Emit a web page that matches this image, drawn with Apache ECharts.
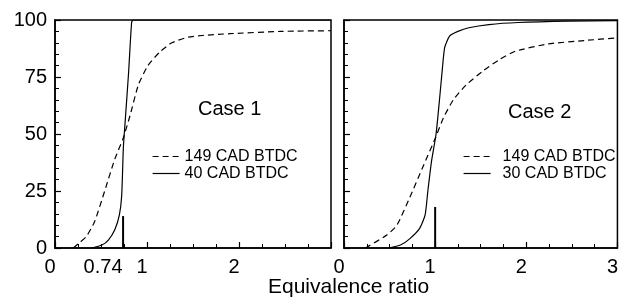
<!DOCTYPE html>
<html>
<head>
<meta charset="utf-8">
<script src="https://cdn.jsdelivr.net/npm/echarts@6.0.0/dist/echarts.min.js"></script>
<style>
    html, body {margin: 0; padding: 0; background: #fff;}
    #main {width: 621px; height: 297px;}
</style>
</head>
<body>
<div id="main"></div>
<script>
// Case 1 数据
var case1_149_x = [0.2, 0.27, 0.34, 0.43, 0.54, 0.65, 0.74, 0.815, 0.906, 1.01, 1.14, 1.27, 1.45, 1.6, 1.9, 2.45, 3.0]
var case1_149_y = [0, 2.5, 5, 11.5, 25, 39, 48, 58, 71.5, 80, 86, 90, 92.5, 93.2, 94, 95, 95.3]
var case1_40_x = [0.40, 0.51, 0.58, 0.65, 0.70, 0.725, 0.743, 0.76, 0.80, 0.833, 0.85, 3.0]
var case1_40_y = [0, 1.3, 3.5, 8, 14.5, 23, 44, 54, 77, 99, 100, 100]
var case1_mark_x = [0.74, 0.74]
var case1_mark_y = [0, 14]

// Case 2 数据
var case2_149_x = [0.235, 0.47, 0.58, 0.72, 0.87, 1.0, 1.09, 1.2, 1.34, 1.52, 1.70, 1.88, 2.24, 2.64, 3.0]
var case2_149_y = [0, 5.7, 10, 22, 36, 48, 57, 65, 71.5, 77.5, 82.5, 86.3, 89.5, 91, 92.2]
var case2_30_x = [0.49, 0.62, 0.72, 0.83, 0.89, 0.92, 0.96, 1.01, 1.05, 1.08, 1.105, 1.16, 1.25, 1.37, 1.59, 1.91, 2.46, 3.0]
var case2_30_y = [0, 1.3, 4, 8.6, 14.5, 25, 38, 50, 66, 79, 88, 93, 95, 96.6, 98, 98.9, 99.5, 99.7]
var case2_mark_x = [1.0, 1.0]
var case2_mark_y = [0, 18]

// 刻度标签
var case1_x_labels = [0, 0.74, 1, 2]
var case2_x_labels = [0, 1, 2, 3]
var y_ticks = [0, 25, 50, 75, 100]

var FONT = '"Liberation Sans", Arial, Helvetica, sans-serif'

function zip(xs, ys) {
    var out = []
    for (var i = 0; i < xs.length; i++) {
        out.push([xs[i], ys[i]])
    }
    return out
}

function make_x_axis(gridIndex, labels) {
    return {
        type: 'value',
        gridIndex: gridIndex,
        min: 0,
        max: 3,
        interval: 1,
        axisLine: {lineStyle: {color: '#000', width: 1.5}},
        axisTick: {inside: true, length: 6, lineStyle: {color: '#000', width: 1.2}},
        minorTick: {show: true, splitNumber: 4, length: 4, lineStyle: {color: '#000', width: 1}},
        splitLine: {show: false},
        axisLabel: {
            customValues: labels,
            color: '#000',
            fontSize: 20,
            fontFamily: FONT,
            margin: 9,
            padding: [0, 10, 0, 0],
            formatter: function (v) {
                // 0.74 标签往左挪，避免和 1 挤在一起
                if (Math.abs(v - 0.74) < 1e-6) {
                    return '{w|0.74}'
                }
                return String(v)
            },
            rich: {
                w: {fontSize: 20, fontFamily: FONT, color: '#000', padding: [0, 30, 0, 0]}
            }
        }
    }
}

function make_y_axis(gridIndex, showLabel) {
    return {
        type: 'value',
        gridIndex: gridIndex,
        min: 0,
        max: 100,
        interval: 25,
        axisLine: {show: true, lineStyle: {color: '#000', width: 1.5}},
        axisTick: {inside: true, length: 6, lineStyle: {color: '#000', width: 1.2}},
        minorTick: {show: true, splitNumber: 5, length: 4, lineStyle: {color: '#000', width: 1}},
        splitLine: {show: false},
        axisLabel: {
            show: showLabel,
            customValues: y_ticks,
            color: '#000',
            fontSize: 20,
            fontFamily: FONT,
            margin: 8
        }
    }
}

function line_series(name, xi, xs, ys, dashed) {
    return {
        name: name,
        type: 'line',
        xAxisIndex: xi,
        yAxisIndex: xi,
        symbol: 'none',
        smooth: 0.2,
        data: zip(xs, ys),
        lineStyle: {color: '#000', width: 1.2, type: dashed ? [6, 4] : 'solid'},
        itemStyle: {color: '#000'}
    }
}

function mark_series(xi, xs, ys) {
    return {
        type: 'line',
        xAxisIndex: xi,
        yAxisIndex: xi,
        symbol: 'none',
        data: zip(xs, ys),
        lineStyle: {color: '#000', width: 2}
    }
}

// 图例只要线，不要圆点
var legend_common = {
    orient: 'vertical',
    top: 148,
    padding: 0,
    itemWidth: 27,
    itemHeight: 14,
    itemGap: 0,
    itemStyle: {color: 'rgba(0,0,0,0)', borderWidth: 0, opacity: 0},
    lineStyle: {width: 1.2}
}

var chart = echarts.init(document.getElementById('main'), null, {renderer: 'canvas'});

var option = {
    animation: false,
    backgroundColor: '#fff',
    textStyle: {fontFamily: FONT},
    grid: [
        {left: 55, top: 20, width: 276, height: 228, show: true, borderColor: '#000', borderWidth: 1.5},
        {left: 344, top: 20, width: 276, height: 228, show: true, borderColor: '#000', borderWidth: 1.5}
    ],
    xAxis: [make_x_axis(0, case1_x_labels), make_x_axis(1, case2_x_labels)],
    yAxis: [make_y_axis(0, true), make_y_axis(1, false)],
    legend: [
        Object.assign({}, legend_common, {
            left: 152,
            data: ['149 CAD BTDC', '40 CAD BTDC'],
            textStyle: {color: '#000', fontSize: 16, lineHeight: 17, fontFamily: FONT}
        }),
        Object.assign({}, legend_common, {
            left: 463,
            data: ['149 CAD BTDC', '30 CAD BTDC'],
            textStyle: {color: '#000', fontSize: 16, lineHeight: 17, fontFamily: FONT, padding: [0, 0, 0, 7]}
        })
    ],
    graphic: [
        {type: 'text', left: 198, top: 99, style: {text: 'Case 1', fontSize: 20, fontFamily: FONT, fill: '#000'}},
        {type: 'text', left: 508, top: 102, style: {text: 'Case 2', fontSize: 20, fontFamily: FONT, fill: '#000'}},
        {type: 'text', left: 268, top: 277, style: {text: 'Equivalence ratio', fontSize: 21, fontFamily: FONT, fill: '#000'}}
    ],
    series: [
        line_series('149 CAD BTDC', 0, case1_149_x, case1_149_y, true),
        line_series('40 CAD BTDC', 0, case1_40_x, case1_40_y, false),
        mark_series(0, case1_mark_x, case1_mark_y),
        line_series('149 CAD BTDC', 1, case2_149_x, case2_149_y, true),
        line_series('30 CAD BTDC', 1, case2_30_x, case2_30_y, false),
        mark_series(1, case2_mark_x, case2_mark_y)
    ]
};
chart.setOption(option);
</script>
</body>
</html>
